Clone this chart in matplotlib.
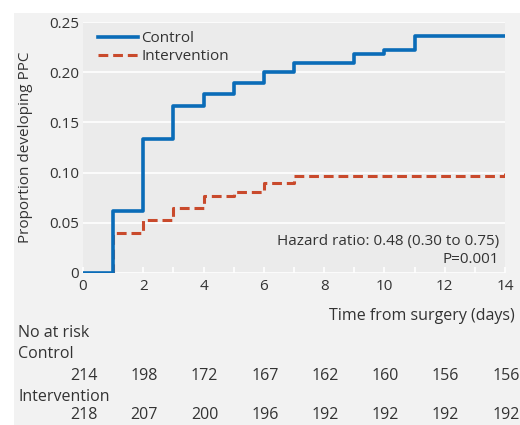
import numpy as np
import matplotlib.pyplot as plt
from matplotlib.patches import Rectangle

plt.rcParams['font.family'] = ['Open Sans', 'DejaVu Sans']

# step times (days) and cumulative proportion developing PPC
days = [0, 1, 2, 3, 4, 5, 6, 7, 9, 10, 11, 14]
control = [0, 0.062, 0.133, 0.166, 0.178, 0.189, 0.200, 0.209, 0.218, 0.222, 0.236, 0.236]
days_int = [0, 1, 2, 3, 4, 5, 6, 7, 14]
intervention = [0, 0.040, 0.053, 0.065, 0.077, 0.081, 0.090, 0.097, 0.100]

risk_days = [0, 2, 4, 6, 8, 10, 12, 14]
risk_control = [214, 198, 172, 167, 162, 160, 156, 156]
risk_intervention = [218, 207, 200, 196, 192, 192, 192, 192]

blue = '#0a6cb8'
red = '#c94a2c'
txt = '#333333'

fig = plt.figure(figsize=(5.2, 4.25), dpi=100)
fig.patch.set_facecolor('white')
fig.patches.append(Rectangle((14 / 520, 0), 1, 1 - 13 / 425, transform=fig.transFigure,
                             facecolor='#f2f2f2', edgecolor='none', zorder=-5))

ax = fig.add_axes([83 / 520, 1 - 273 / 425, (505 - 83) / 520, (273 - 22) / 425])
ax.set_zorder(2)
ax.set_facecolor('#ebebeb')
for s in ax.spines.values():
    s.set_visible(False)

ax.set_xlim(0, 14)
ax.set_ylim(0, 0.25)
ax.set_yticks([0, 0.05, 0.10, 0.15, 0.20, 0.25])
ax.set_yticklabels(['0', '0.05', '0.10', '0.15', '0.20', '0.25'])
ax.set_xticks(range(0, 15, 2))
ax.set_xticks(range(0, 15), minor=True)
ax.grid(axis='y', color='white', lw=1.2)
ax.set_axisbelow(True)
ax.tick_params(axis='y', length=0, labelsize=11, colors=txt, pad=3)
ax.tick_params(axis='x', which='both', direction='in', length=4, color='white',
               width=1.2, labelsize=11, labelcolor=txt, pad=4)

ax.step(days_int, intervention, where='post', color=red, lw=2.2, ls=(0, (3.2, 1.6)),
        label='Intervention', zorder=3)
ax.step(days, control, where='post', color=blue, lw=2.6, label='Control', zorder=4)

handles, labels = ax.get_legend_handles_labels()
leg = ax.legend(handles[::-1], labels[::-1], loc='upper left', frameon=False, fontsize=11,
                handlelength=2.6, handletextpad=0.2, borderaxespad=0.2, labelspacing=0.2,
                bbox_to_anchor=(0.015, 1.0))
for t in leg.get_texts():
    t.set_color(txt)

ax.set_ylabel('Proportion developing PPC', fontsize=11, color=txt)
ax.yaxis.set_label_coords(-0.118, 0.5)

ax.text(0.985, 0.125, 'Hazard ratio: 0.48 (0.30 to 0.75)', transform=ax.transAxes,
        ha='right', va='center', fontsize=11, color=txt)
ax.text(0.985, 0.055, 'P=0.001', transform=ax.transAxes,
        ha='right', va='center', fontsize=11, color=txt)

# number at risk table below the axis
fig.text(515 / 520, 1 - 316 / 425, 'Time from surgery (days)', ha='right', va='center',
         fontsize=11.5, color=txt)
fig.text(18 / 520, 1 - 333 / 425, 'No at risk', ha='left', va='center', fontsize=11.5, color=txt)
fig.text(18 / 520, 1 - 354 / 425, 'Control', ha='left', va='center', fontsize=11.5, color=txt)
fig.text(18 / 520, 1 - 397 / 425, 'Intervention', ha='left', va='center', fontsize=11.5, color=txt)
for d, c, i in zip(risk_days, risk_control, risk_intervention):
    x = ax.transData.transform((d, 0))[0] / fig.bbox.width + 1 / 520
    fig.text(x, 1 - 376 / 425, str(c), ha='center', va='center', fontsize=11.5, color=txt)
    fig.text(x, 1 - 415 / 425, str(i), ha='center', va='center', fontsize=11.5, color=txt)

fig.savefig('out.png', dpi=100)
